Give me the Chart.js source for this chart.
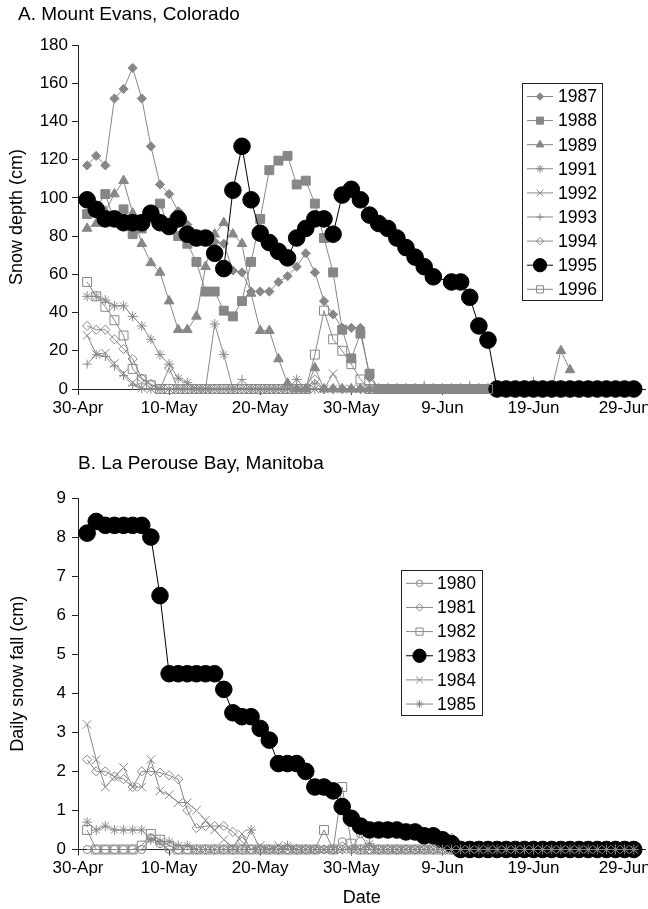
<!DOCTYPE html>
<html>
<head>
<meta charset="utf-8">
<script src="https://cdn.jsdelivr.net/npm/chart.js@4.4.1/dist/chart.umd.min.js"></script>
<style>
html,body{margin:0;padding:0;background:#fff;overflow:hidden;width:648px;height:909px;position:relative;}
#wrapA{position:absolute;left:0;top:0;width:668px;height:440px;}
#wrapB{position:absolute;left:0;top:440px;width:668px;height:469px;}
canvas{display:block;}
</style>
</head>
<body>
<div id="wrapA"><canvas id="chartA" width="668" height="440"></canvas></div>
<div id="wrapB"><canvas id="chartB" width="668" height="469"></canvas></div>
<script>
// ---------- data ----------
const xTickLabels = ['30-Apr','10-May','20-May','30-May','9-Jun','19-Jun','29-Jun'];
const xTickDays = [0,10,20,30,40,50,60];
// observation day (days after 30-Apr)
const obsDays = [1,2,3,4,5,6,7,8,9,10,11,12,13,14,15,16,17,18,19,20,21,22,23,24,25,26,27,28,29,30,31,32,33,34,35,36,37,38,39,40,41,42,43,44,45,46,47,48,49,50,51,52,53,54,55,56,57,58,59,60,61];

const yTicksA = [0,20,40,60,80,100,120,140,160,180];
const yTicksB = [0,1,2,3,4,5,6,7,8,9];

// Panel A: snow depth (cm), Mount Evans
const depth1987 = [117,122,117,152,157,168,152,127,107,102, 93,86,81,79,77,76,62,61,51,51, 51,56,59,64,71,61,46,39,32,32, 32,6,0,0,0,0,0,0,0,0, 0,0,0,0,0,0,0,0,0,0, 0,0,0,0,0,0,0,0,0,0,0];
const depth1988 = [91.5,95,102,88,94,81,84,90,97,84, 80,76,66.5,51,51,41,38,46,66.5,89, 114.5,119.5,122,107,109,97,79,61,31,16, 29,8,0,0,0,0,0,0,0,0, 0,0,0,0,0,0,0,0,0,0, 0,0,0,0,0,0,0,0,0,0,0];
const depth1989 = [84,86.6,93,102,109,92,76,66,61,46, 31,31,38,64,81,87,81,76,50,30.5, 30.5,15.7,3,0,0,11,0,0,0,0, 0,0,0,0,0,0,0,0,0,0, 0,0,0,0,0,0,0,0,0,0, 0,0,20,10,null,null,null,null,null,null,null];
const depth1991 = [48.5,48.5,46.5,43.5,43.5,38,33,26,18,13, 5.6,3.3,0,0,34,18,0,0,0,0, 0,0,0,5,0,0,0,0,0,0, 0,0,0,0,0,0,0,0,0,0, 0,0,0,0,0,0,0,0,0,0, 0,0,0,0,0,0,0,0,0,0,0];
const depth1992 = [28,18.3,18.8,13.4,8.2,3.3,0.5,0,0,0, 0,0,0,0,0,0,0,0,0,0, 0,0,0,0,0,0,0,8,0,0, 0,0,0,0,0,0,0,0,0,0, 0,0,0,0,0,0,0,0,0,0, 0,0,0,0,0,0,0,0,0,0,0];
const depth1993 = [13,18,17,12,7,2,0,0,0,0, 0,0,0,0,0,0,0,5,0,0, 0,0,0,0,0,3,0,0,0,0, 0,0,0,0,0,0,0,2,0,0, 0,0,2,0,0,0,0,0,0,4, 0,0,0,0,0,0,0,0,0,0,0];
const depth1994 = [33,31,31,26,21,15.7,5.5,2.6,0,11, 0,0,0,0,0,0,0,0,0,0, 0,0,0,0,0,5,0,0,0,0, 0,0,0,0,0,0,0,0,0,0, 0,0,0,0,0,0,0,0,0,0, 0,0,0,0,0,0,0,0,0,0,0];
const depth1995 = [99,94,89,89,87,87,87,92,87,85, 89,81,79,79,71,63,104,127,99,81.5, 76.6,72,68.6,79,84,89,89,81,101.5,104.5, 99,91,86.6,84,79,74,69,64,58.7,null, 56,56,48,33,25.6,0,0,0,0,0, 0,0,0,0,0,0,0,0,0,0,0];
const depth1996 = [56,48.5,43,36,28,10.5,5,2,0,0, 0,0,0,0,0,0,0,0,0,0, 0,0,0,0,0,18,41,26,20,13, 5,0,0,0,0,0,0,0,0,0, 0,0,0,0,0,null,null,null,null,null, null,null,null,null,null,null,null,null,null,null,null];

// Panel B: daily snow fall (cm), La Perouse Bay
const snow1980 = [0,0,0,0,0,0,0,0.3,0.15,0, 0,0,0,0,0,0,0,0,0,0, 0,0,0,0,0,0,0,0,0.2,0, 0.4,0,0,0,0,0,0,0,0,0, 0,0,0,0,0,0,0,0,0,0, 0,0,0,0,0,0,0,0,0,0,0];
const snow1981 = [2.3,2.0,2.0,1.87,1.8,1.6,2.0,2.0,1.97,1.9, 1.8,1.0,0.55,0.6,0.6,0.6,0.45,0.2,0,0, 0,0,0,0,0,0,0,0,0,0, 0,0,0,0,0,0,0,0,0,0, 0.3,0,0,0,0,0,0,0,0,0, 0,0,0,0,0,0,0,0,0,0,0];
const snow1982 = [0.5,0,0,0,0,0,0.1,0.4,0.25,0.1, 0,0,0,0,0,0,0,0,0,0, 0,0,0,0,0,0,0.5,0,1.6,0.15, 0,0,0,0,0,0,0,0,0,0, 0,0,0,0,0,0,0,0,0,0, 0,0,0,0,0,0,0,0,0,0,0];
const snow1983 = [8.1,8.4,8.3,8.3,8.3,8.3,8.3,8.0,6.5,4.5, 4.5,4.5,4.5,4.5,4.5,4.1,3.5,3.4,3.4,3.1, 2.8,2.2,2.2,2.2,2.0,1.6,1.6,1.5,1.1,0.8, 0.6,0.5,0.5,0.5,0.5,0.45,0.45,0.35,0.35,0.25, 0.15,0,0,0,0,0,0,0,0,0, 0,0,0,0,0,0,0,0,0,0,0];
const snow1984 = [3.2,2.3,1.6,1.85,2.1,1.6,1.6,2.3,1.5,1.4, 1.2,1.2,1.0,0.75,0.5,0.25,0.05,0.4,0,0.1, 0,0.1,0,0,0,0,0,0,0,0, 0,0,0,0,0,0,0,0,0,0, 0,0,0,0,0,0,0,0,0,0, 0,0,0,0,0,0,0,0,0,0,0];
const snow1985 = [0.7,0.5,0.6,0.5,0.5,0.5,0.5,0.25,0.2,0.2, 0.1,0.1,0,0,0,0,0,0,0.5,0, 0,0,0.1,0,0,0,0,0,0,0, 0,0.15,0,0,0,0,0,0,0,0, 0,0,0,0,0,0,0,0,0,0, 0,0,0,0,0,0,0,0,0,0,0];

// ---------- styles ----------
const FAMILY = '"Liberation Sans", Arial, Helvetica, sans-serif';
const GRAY = '#878787';
const NONE = 'rgba(0,0,0,0)';
const styleTable = {
  filledDiamond: {pointStyle:'rectRot', radius:4.6, fill:GRAY, stroke:GRAY, line:GRAY},
  filledSquare:  {pointStyle:'rect', radius:6.3, fill:GRAY, stroke:GRAY, line:GRAY},
  filledTri:     {pointStyle:'triangle', radius:5.6, fill:GRAY, stroke:GRAY, line:GRAY},
  asterisk:      {pointStyle:'star', radius:5, fill:NONE, stroke:GRAY, line:GRAY},
  xMark:         {pointStyle:'crossRot', radius:6, fill:NONE, stroke:GRAY, line:GRAY},
  plus:          {pointStyle:'cross', radius:4.5, fill:NONE, stroke:GRAY, line:GRAY},
  openDiamond:   {pointStyle:'rectRot', radius:4.6, fill:NONE, stroke:GRAY, line:GRAY},
  openSquare:    {pointStyle:'rect', radius:6.3, fill:NONE, stroke:GRAY, line:GRAY},
  openCircle:    {pointStyle:'circle', radius:4, fill:NONE, stroke:GRAY, line:GRAY},
  bigDot:        {pointStyle:'circle', radius:8.3, fill:'#000', stroke:'#000', line:'#000'}
};

function makeSet(label, values, styleName, idx, n) {
  const s = styleTable[styleName];
  return {
    label: label,
    data: obsDays.map((d, i) => ({x: d, y: values[i]})),
    borderColor: s.line,
    borderWidth: 1,
    pointStyle: s.pointStyle,
    pointRadius: s.radius,
    pointHoverRadius: s.radius,
    pointBackgroundColor: s.fill,
    pointBorderColor: s.stroke,
    pointBorderWidth: 1,
    tension: 0,
    spanGaps: true,
    clip: false,
    order: n - 1 - idx
  };
}

// ---------- plugins ----------
const panelTitle = {
  id: 'panelTitle',
  afterDraw(chart, args, o) {
    const ctx = chart.ctx;
    ctx.save();
    ctx.font = o.size + 'px ' + FAMILY;
    ctx.fillStyle = '#000';
    ctx.textAlign = 'left';
    ctx.textBaseline = 'middle';
    ctx.fillText(o.text, o.x, o.y);
    ctx.restore();
  }
};

function drawMarker(ctx, ds, x, y, scale) {
  ctx.fillStyle = ds.pointBackgroundColor;
  ctx.strokeStyle = ds.pointBorderColor;
  ctx.lineWidth = 1;
  if (Chart.helpers && Chart.helpers.drawPoint) {
    Chart.helpers.drawPoint(ctx, {pointStyle: ds.pointStyle, radius: ds.pointRadius * scale, borderWidth: 1, rotation: 0}, x, y);
  } else {
    ctx.beginPath(); ctx.arc(x, y, ds.pointRadius * scale, 0, Math.PI * 2); ctx.fill(); ctx.stroke();
  }
}

const boxLegend = {
  id: 'boxLegend',
  afterDraw(chart, args, o) {
    const ctx = chart.ctx;
    ctx.save();
    ctx.fillStyle = '#fff';
    ctx.fillRect(o.x, o.y, o.w, o.h);
    ctx.strokeStyle = '#222';
    ctx.lineWidth = 1;
    ctx.strokeRect(o.x + 0.5, o.y + 0.5, o.w, o.h);
    chart.data.datasets.forEach((ds, i) => {
      const cy = o.row0 + i * o.rowGap;
      ctx.strokeStyle = ds.borderColor;
      ctx.lineWidth = 1;
      ctx.beginPath();
      ctx.moveTo(o.line0, cy); ctx.lineTo(o.line1, cy);
      ctx.stroke();
      drawMarker(ctx, ds, (o.line0 + o.line1) / 2, cy, 0.8);
      ctx.fillStyle = '#000';
      ctx.font = o.size + 'px ' + FAMILY;
      ctx.textAlign = 'left';
      ctx.textBaseline = 'middle';
      ctx.fillText(ds.label, o.textX, cy + 1);
    });
    ctx.restore();
  }
};

function xScale(fitHeight, titleText) {
  const sc = {
    type: 'linear', min: 0, max: 62.3,
    afterBuildTicks: s => { s.ticks = xTickDays.map(v => ({value: v})); },
    ticks: {
      callback: (v, i) => xTickLabels[i],
      font: {family: FAMILY, size: 17}, color: '#000', padding: 3,
      maxRotation: 0, minRotation: 0, autoSkip: false
    },
    grid: {drawOnChartArea: false, drawTicks: true, tickLength: 6, color: '#222', lineWidth: 1},
    border: {display: true, color: '#222', width: 1},
    afterFit: s => { s.height = fitHeight; }
  };
  if (titleText) {
    sc.title = {display: true, text: titleText, font: {family: FAMILY, size: 18}, color: '#000', padding: {top: 0, bottom: 0}};
  }
  return sc;
}

function yScale(maxV, ticksArr, titleText, titlePad, tickPad) {
  return {
    min: 0, max: maxV,
    afterBuildTicks: s => { s.ticks = ticksArr.map(v => ({value: v})); },
    ticks: {font: {family: FAMILY, size: 17}, color: '#000', padding: tickPad},
    grid: {drawOnChartArea: false, drawTicks: true, tickLength: 6, color: '#222', lineWidth: 1},
    border: {display: true, color: '#222', width: 1},
    title: {display: true, text: titleText, font: {family: FAMILY, size: 18}, color: '#000', padding: {top: titlePad, bottom: 0}},
    afterFit: s => { s.width = 78; }
  };
}

// ---------- chart A ----------
const labelsA = ['1987','1988','1989','1991','1992','1993','1994','1995','1996'];
const valuesA = [depth1987, depth1988, depth1989, depth1991, depth1992, depth1993, depth1994, depth1995, depth1996];
const stylesA = ['filledDiamond','filledSquare','filledTri','asterisk','xMark','plus','openDiamond','bigDot','openSquare'];

new Chart(document.getElementById('chartA'), {
  type: 'line',
  data: {datasets: labelsA.map((l, i) => makeSet(l, valuesA[i], stylesA[i], i, labelsA.length))},
  options: {
    responsive: false, animation: false, devicePixelRatio: 1,
    layout: {padding: {left: 0, right: 22.4, top: 45, bottom: 11}},
    plugins: {
      legend: {display: false}, tooltip: {enabled: false},
      panelTitle: {text: 'A. Mount Evans, Colorado', x: 18, y: 15, size: 19},
      boxLegend: {x: 522, y: 83, w: 80, h: 217, row0: 96.5, rowGap: 24.1, line0: 527, line1: 553, textX: 558, size: 17.5}
    },
    scales: {
      x: xScale(40, null),
      y: yScale(180, yTicksA, 'Snow depth (cm)', 6, 4)
    }
  },
  plugins: [panelTitle, boxLegend]
});

// ---------- chart B ----------
const labelsB = ['1980','1981','1982','1983','1984','1985'];
const valuesB = [snow1980, snow1981, snow1982, snow1983, snow1984, snow1985];
const stylesB = ['openCircle','openDiamond','openSquare','bigDot','xMark','asterisk'];

new Chart(document.getElementById('chartB'), {
  type: 'line',
  data: {datasets: labelsB.map((l, i) => makeSet(l, valuesB[i], stylesB[i], i, labelsB.length))},
  options: {
    responsive: false, animation: false, devicePixelRatio: 1,
    layout: {padding: {left: 0, right: 22.4, top: 58, bottom: 0}},
    plugins: {
      legend: {display: false}, tooltip: {enabled: false},
      panelTitle: {text: 'B. La Perouse Bay, Manitoba', x: 78, y: 24, size: 19},
      boxLegend: {x: 401, y: 130, w: 81, h: 145, row0: 143.3, rowGap: 24.15, line0: 406, line1: 433, textX: 437, size: 17.5}
    },
    scales: {
      x: xScale(59.5, 'Date'),
      y: yScale(9, yTicksB, 'Daily snow fall (cm)', 7.5, 6)
    }
  },
  plugins: [panelTitle, boxLegend]
});
</script>
</body>
</html>
